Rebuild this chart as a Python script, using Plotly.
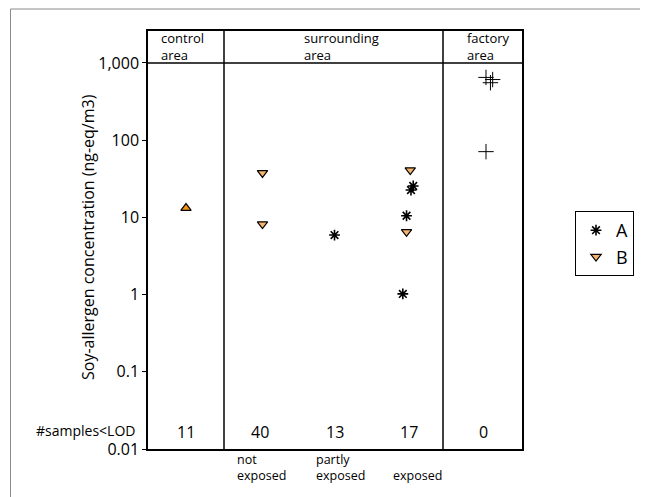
import plotly.graph_objects as go

# ---- data ----
col_labels = ["control<br>area", "surrounding<br>area", "factory<br>area"]
sub_labels = ["not<br>exposed", "partly<br>exposed", "exposed"]
lod_counts = ["11", "40", "13", "17", "0"]
lod_x = [1, 2, 3, 4, 5]

a_x = [3.00, 4.03, 4.06, 3.97, 3.92]
a_y = [5.9, 22.6, 25.5, 10.5, 1.02]

b_x = [2.03, 2.03, 4.02, 3.97]
b_y = [37.6, 8.2, 41.0, 6.5]

ctrl_x = [1.0]
ctrl_y = [13.2]

fac_x = [5.04, 5.10, 5.13, 5.04]
fac_y = [650, 555, 610, 71]

ytick_vals = [0.01, 0.1, 1, 10, 100, 1000]
ytick_text = ["0.01", "0.1", "1", "10", "100", "1,000"]

FONT = "Open Sans"
O = 8  # page body margin offset
W, H = 648 - O, 497 - O
L, R, T, B = 148 - O, 522 - O, 31 - O, 449 - O


def px(xp):
    return (xp - O - L) / (R - L)


def py(yp):
    return (B - (yp - O)) / (B - T)


fig = go.Figure()
fig.add_trace(go.Scatter(
    x=a_x, y=a_y, mode="markers", name="A",
    marker=dict(symbol="asterisk-open", size=9, color="black",
                line=dict(color="black", width=1.6))))
fig.add_trace(go.Scatter(
    x=b_x, y=b_y, mode="markers", name="B",
    marker=dict(symbol="triangle-down", size=9, color="#F6B56A",
                line=dict(color="black", width=1.2))))
fig.add_trace(go.Scatter(
    x=ctrl_x, y=ctrl_y, mode="markers", showlegend=False,
    marker=dict(symbol="triangle-up", size=9, color="#F39419",
                line=dict(color="black", width=1.2))))
fig.add_trace(go.Scatter(
    x=fac_x, y=fac_y, mode="markers", showlegend=False,
    marker=dict(symbol="cross-thin-open", size=11, color="black",
                line=dict(color="black", width=1))))

shapes = [
    dict(type="line", xref="paper", yref="y", x0=0, x1=1, y0=1000, y1=1000,
         line=dict(color="black", width=1.5)),
    dict(type="line", xref="paper", yref="paper", x0=px(224), x1=px(224), y0=0, y1=1,
         line=dict(color="black", width=1.5)),
    dict(type="line", xref="paper", yref="paper", x0=px(443), x1=px(443), y0=0, y1=1,
         line=dict(color="black", width=1.5)),
    dict(type="rect", xref="paper", yref="paper", x0=px(10.5), x1=px(642.5),
         y0=py(515), y1=py(9), line=dict(color="#8a8a8a", width=1)),
]

ann = []


def txt(t, xp, yp, size, xanchor="left", yanchor="middle", angle=0):
    ann.append(dict(text=t, x=px(xp), y=py(yp), xref="paper", yref="paper",
                    xanchor=xanchor, yanchor=yanchor, align="left", showarrow=False,
                    textangle=angle,
                    font=dict(family=FONT, size=size, color="black")))


head_x = [159, 302, 465]
for t, xp in zip(col_labels, head_x):
    txt(t, xp, 27, 13, yanchor="top")

for t, xv in zip(lod_counts, lod_x):
    ann.append(dict(text=t, x=xv, y=py(432), xref="x", yref="paper",
                    xanchor="center", yanchor="middle", showarrow=False,
                    font=dict(family=FONT, size=16, color="black")))
txt("#samples&lt;LOD", 137, 430, 14, xanchor="right")

sub_x = [235, 314, 391]
for t, xp in zip(sub_labels, sub_x):
    txt(t, xp, 486, 12.5, yanchor="bottom")

txt("Soy-allergen concentration (ng-eq/m3)", 88, 237, 16, xanchor="center", angle=-90)

fig.update_layout(
    width=W, height=H,
    margin=dict(l=L, r=W - R, t=T, b=H - B, pad=0, autoexpand=False),
    paper_bgcolor="white", plot_bgcolor="white",
    font=dict(family=FONT, color="black"),
    shapes=shapes, annotations=ann,
    showlegend=True,
    legend=dict(x=px(575), y=py(211), xanchor="left", yanchor="top",
                bordercolor="black", borderwidth=1, itemwidth=30,
                font=dict(family=FONT, size=18, color="black"),
                tracegroupgap=0),
    xaxis=dict(range=[0.4882, 5.525], showgrid=False, zeroline=False,
               showticklabels=False, ticks="", showline=True, mirror=True,
               linecolor="black", linewidth=1.5),
    yaxis=dict(type="log", range=[-2, 3.414], tickvals=ytick_vals, ticktext=ytick_text,
               showgrid=False, zeroline=False, ticks="outside", ticklen=4,
               tickcolor="black", showline=True, mirror=True,
               linecolor="black", linewidth=1.5,
               tickfont=dict(family=FONT, size=16, color="black")),
)

fig.write_html("out.html")
